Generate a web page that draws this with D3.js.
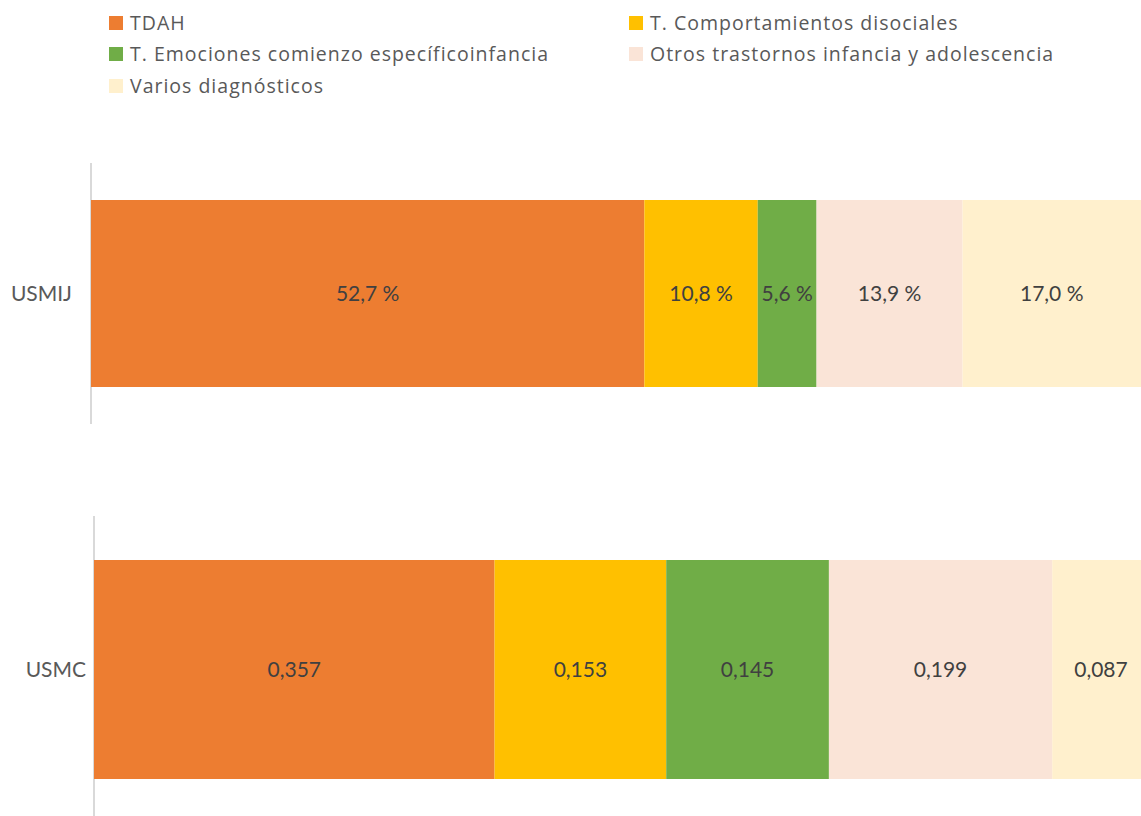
<!DOCTYPE html>
<html>
<head>
<meta charset="utf-8">
<script src="https://cdn.jsdelivr.net/npm/d3@7"></script>
<style>
  html, body { margin: 0; padding: 0; background: #fff; overflow: hidden; }
  svg { display: block; font-family: Lato, "Open Sans", sans-serif; }
</style>
</head>
<body>
<svg id="chart" width="1141" height="816"></svg>
<script>
// Diagnostic groups (stack order, left to right)
const series = [
  "TDAH",
  "T. Comportamientos disociales",
  "T. Emociones comienzo específicoinfancia",
  "Otros trastornos infancia y adolescencia",
  "Varios diagnósticos"
];
const colors = ["#ed7d31", "#ffc000", "#70ad47", "#fae4d7", "#fff0cd"];

// Upper panel: percentages
const usmijLabel = "USMIJ";
const usmijValues = [52.7, 10.8, 5.6, 13.9, 17.0];

// Lower panel: proportions
const usmcLabel = "USMC";
const usmcValues = [0.357, 0.153, 0.145, 0.199, 0.087];

const svg = d3.select("#chart");
const fmtPct = v => d3.format(".1f")(v).replace(".", ",") + " %";
const fmtDec = v => d3.format(".3f")(v).replace(".", ",");

// ---- Legend ----
const legendCols = [109, 629];
const legendRows = [23, 54, 86];
const legend = svg.append("g");
series.forEach((name, i) => {
  const g = legend.append("g")
    .attr("transform", `translate(${legendCols[i % 2]},${legendRows[Math.floor(i / 2)]})`);
  g.append("rect").attr("x", 0).attr("y", -7).attr("width", 14).attr("height", 14)
    .attr("fill", colors[i]);
  g.append("text").attr("x", 21).attr("y", 0).attr("dy", "0.35em")
    .attr("font-family", "'Open Sans', sans-serif")
    .attr("letter-spacing", 1)
    .attr("font-size", 19.5).attr("fill", "#595959").text(name);
});

// ---- One stacked-bar panel ----
function panel(label, values, xScale, band, axisTop, axisBottom, fmt, labelX) {
  const y = d3.scaleBand().domain([label]).range(band).padding(0);
  const stackData = [Object.fromEntries(series.map((s, i) => [s, values[i]]))];
  const stacked = d3.stack().keys(series)(stackData);
  const g = svg.append("g");

  // category axis line
  g.append("line")
    .attr("x1", xScale(0)).attr("x2", xScale(0))
    .attr("y1", axisTop).attr("y2", axisBottom)
    .attr("stroke", "#d9d9d9").attr("stroke-width", 2);

  g.selectAll("rect.seg").data(stacked).join("rect")
    .attr("class", "seg")
    .attr("x", d => xScale(d[0][0]))
    .attr("width", d => xScale(d[0][1]) - xScale(d[0][0]))
    .attr("y", y(label))
    .attr("height", y.bandwidth())
    .attr("fill", (d, i) => colors[i]);

  g.selectAll("text.val").data(stacked).join("text")
    .attr("class", "val")
    .attr("x", d => (xScale(d[0][0]) + xScale(d[0][1])) / 2)
    .attr("y", y(label) + y.bandwidth() / 2)
    .attr("dy", "0.35em")
    .attr("text-anchor", "middle")
    .attr("font-size", 21)
    .attr("fill", "#404040")
    .text((d, i) => fmt(values[i]));

  g.append("text")
    .attr("x", labelX)
    .attr("y", y(label) + y.bandwidth() / 2)
    .attr("dy", "0.35em")
    .attr("text-anchor", "end")
    .attr("font-size", 21)
    .attr("fill", "#595959")
    .text(label);
}

const xTop = d3.scaleLinear().domain([0, 100]).range([91, 1141]);
panel(usmijLabel, usmijValues, xTop, [200, 387], 163, 424, fmtPct, 72);

const xBottom = d3.scaleLinear().domain([0, 1]).range([94, 1216]);
panel(usmcLabel, usmcValues, xBottom, [560, 779], 516, 816, fmtDec, 86);
</script>
</body>
</html>
